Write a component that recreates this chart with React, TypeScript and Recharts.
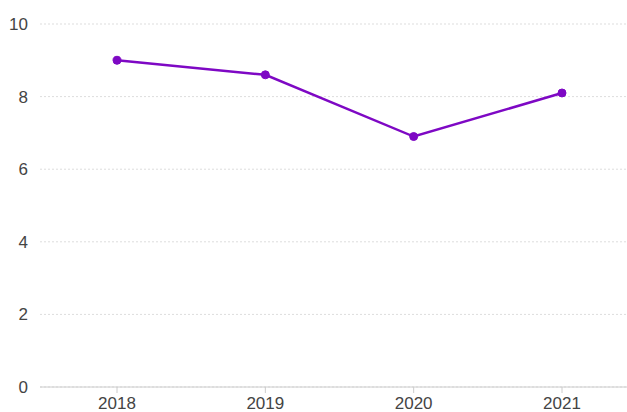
import React from 'react';
import { LineChart, Line, XAxis, YAxis, CartesianGrid } from 'recharts';

const years = ['2018', '2019', '2020', '2021'];
const scores = [9.0, 8.6, 6.9, 8.1];
const yTicks = [0, 2, 4, 6, 8, 10];

const data = years.map((year, i) => ({ year, score: scores[i] }));

const App: React.FC = () => {
  return (
    <div style={{ position: 'absolute', left: 0, top: 0, background: '#fff' }}>
      <LineChart
        width={627}
        height={412}
        data={data}
        margin={{ top: 24, right: 0, left: 0, bottom: 0 }}
        style={{ fontFamily: '"Liberation Sans", Arial, sans-serif' }}
      >
        <CartesianGrid vertical={false} stroke="#dddddd" strokeDasharray="2 2" />
        <XAxis
          dataKey="year"
          height={25}
          padding={{ left: 77, right: 65 }}
          stroke="#cccccc"
          tickSize={6}
          tickMargin={4}
          tick={{ fill: '#444444', fontSize: 17 }}
        />
        <YAxis
          width={40}
          domain={[0, 10]}
          ticks={yTicks}
          axisLine={false}
          tickLine={false}
          tickMargin={6}
          tick={{ fill: '#444444', fontSize: 17 }}
        />
        <Line
          type="linear"
          dataKey="score"
          stroke="#7e08c4"
          strokeWidth={2.5}
          dot={{ r: 4, fill: '#7e08c4', stroke: '#7e08c4', strokeWidth: 1 }}
          isAnimationActive={false}
        />
      </LineChart>
    </div>
  );
};

export default App;
